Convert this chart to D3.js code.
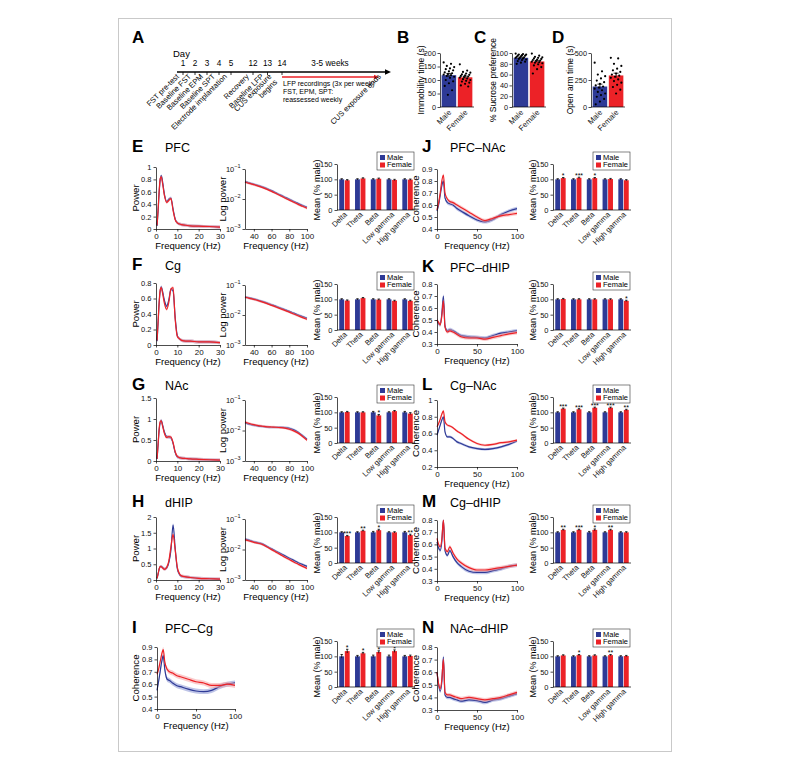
<!DOCTYPE html>
<html>
<head>
<meta charset="utf-8">
<script src="https://cdn.jsdelivr.net/npm/d3@7"></script>
<style>
  body { margin: 0; background: #fff; }
  svg { font-family: "Liberation Sans", Arial, Helvetica, sans-serif; }
</style>
</head>
<body>
<svg id="fig" width="791" height="763"></svg>
<script>
const BLUE = "#2e3a96", RED = "#ec2227";
const BLUE_LIGHT = "#8893d3", RED_LIGHT = "#f6a0a2";
const SEXES = ["Male", "Female"];
const BANDS = ["Delta", "Theta", "Beta", "Low gamma", "High gamma"];

// A: timeline
const DAY_TICKS = [1, 2, 3, 4, 5, 12, 13, 14];
const EVENT_DAYS = [1, 2, 3, 4, 5, 12, 13, 14, 49];
const EVENT_LABELS = ["FST pre-test", "Baseline FST", "Baseline EPM", "Baseline SPT", "Electrode implantation",
  "Recovery", "Baseline LFP", "CUS exposure\nbegins", "CUS exposure ends"];
const LFP_NOTE = ["LFP recordings (3x per week)", "FST, EPM, SPT:", "reassessed weekly"];

// B-D: behaviour, one value per animal
const IMMOBILITY_MALE = [165,160,152,148,143,140,136,132,128,125,122,120,118,115,112,108,100,95,88,78,62,45];
const IMMOBILITY_FEMALE = [158,135,130,127,124,121,119,117,115,113,111,109,106,103,100,97,94,90,86,80,76];
const SUCROSE_MALE = [99,98,97,97,96,95,95,94,93,92,91,91,90,89,88,87,85,84,82,80];
const SUCROSE_FEMALE = [99,95,93,92,91,90,89,88,87,86,85,84,83,82,81,79,77,74,70,62];
const OPENARM_MALE = [410,330,300,285,265,245,230,215,200,190,180,170,155,140,125,110,95,75,50,25];
const OPENARM_FEMALE = [455,450,400,380,355,340,325,310,300,290,280,270,255,240,225,205,185,160,125];

// E-H: power spectra
const POWER_FREQ = [0.5,1,1.5,2,2.5,3,4,5,6,7,8,9,10,11,12,14,16,20,25,30];
const PFC_POWER_M = [0.05,0.3,0.6,0.8,0.86,0.78,0.55,0.44,0.48,0.5,0.32,0.16,0.1,0.08,0.07,0.06,0.05,0.045,0.04,0.03];
const PFC_POWER_F = [0.06,0.32,0.62,0.82,0.84,0.75,0.53,0.43,0.46,0.49,0.3,0.15,0.1,0.08,0.07,0.06,0.05,0.045,0.04,0.03];
const CG_POWER_M = [0.05,0.3,0.55,0.7,0.75,0.7,0.57,0.5,0.58,0.72,0.7,0.35,0.12,0.08,0.06,0.05,0.05,0.04,0.04,0.03];
const CG_POWER_F = [0.06,0.31,0.56,0.72,0.74,0.68,0.53,0.46,0.55,0.72,0.74,0.33,0.11,0.08,0.06,0.05,0.05,0.04,0.04,0.03];
const NAC_POWER_M = [0.05,0.4,0.75,0.92,0.97,0.88,0.68,0.58,0.57,0.55,0.42,0.2,0.1,0.08,0.07,0.06,0.05,0.04,0.03,0.02];
const NAC_POWER_F = [0.05,0.42,0.78,0.95,0.95,0.85,0.65,0.56,0.58,0.57,0.44,0.22,0.11,0.08,0.07,0.06,0.05,0.04,0.03,0.02];
const DHIP_POWER_M = [0.05,0.2,0.35,0.42,0.43,0.4,0.35,0.38,0.55,0.95,1.75,1.0,0.35,0.18,0.12,0.1,0.08,0.05,0.04,0.03];
const DHIP_POWER_F = [0.05,0.2,0.36,0.43,0.42,0.39,0.34,0.4,0.6,1.05,1.45,0.95,0.4,0.2,0.13,0.1,0.08,0.05,0.04,0.03];

const LOG_FREQ = [30,35,40,45,50,55,60,65,70,75,80,85,90,95,100];
const PFC_LOG_M = [0.038,0.034,0.031,0.028,0.025,0.022,0.019,0.016,0.0135,0.0115,0.0098,0.0083,0.0071,0.0061,0.0053];
const PFC_LOG_F = [0.037,0.033,0.03,0.027,0.024,0.021,0.018,0.0152,0.0128,0.0108,0.0092,0.0078,0.0066,0.0057,0.0049];
const CG_LOG_M = [0.04,0.037,0.034,0.031,0.028,0.025,0.022,0.0195,0.017,0.015,0.0132,0.0115,0.01,0.0088,0.0078];
const CG_LOG_F = [0.039,0.036,0.033,0.03,0.027,0.024,0.021,0.0185,0.0162,0.0142,0.0125,0.0108,0.0094,0.0082,0.0072];
const NAC_LOG_M = [0.018,0.016,0.015,0.014,0.0135,0.013,0.0128,0.0128,0.0128,0.0125,0.0118,0.0105,0.0088,0.0068,0.0052];
const NAC_LOG_F = [0.019,0.017,0.0155,0.0145,0.0138,0.0132,0.013,0.0128,0.0125,0.012,0.011,0.0097,0.0082,0.0064,0.0048];
const DHIP_LOG_M = [0.022,0.02,0.018,0.0165,0.015,0.0125,0.0105,0.0088,0.0074,0.0062,0.0052,0.0044,0.0037,0.0032,0.0028];
const DHIP_LOG_F = [0.021,0.019,0.0172,0.016,0.0145,0.012,0.0099,0.0082,0.0068,0.0056,0.0047,0.0039,0.0033,0.0028,0.0024];

// I-N: coherence
const COH_FREQ = [0,2,4,6,8,10,13,16,20,25,30,40,50,60,70,80,90,100];
const PFCCG_COH_M = [0.55,0.62,0.7,0.78,0.83,0.72,0.64,0.63,0.61,0.59,0.58,0.56,0.545,0.54,0.55,0.58,0.6,0.61];
const PFCCG_COH_F = [0.68,0.72,0.78,0.84,0.88,0.78,0.72,0.7,0.69,0.67,0.66,0.64,0.62,0.61,0.59,0.59,0.6,0.59];
const PFCNAC_COH_M = [0.55,0.6,0.68,0.76,0.8,0.66,0.62,0.61,0.6,0.57,0.55,0.51,0.475,0.46,0.48,0.52,0.55,0.57];
const PFCNAC_COH_F = [0.56,0.62,0.7,0.8,0.85,0.7,0.65,0.63,0.62,0.6,0.58,0.54,0.5,0.47,0.49,0.51,0.52,0.53];
const PFCDHIP_COH_M = [0.5,0.47,0.46,0.55,0.7,0.45,0.41,0.42,0.41,0.39,0.37,0.36,0.355,0.35,0.37,0.39,0.4,0.41];
const PFCDHIP_COH_F = [0.5,0.48,0.46,0.53,0.66,0.44,0.4,0.41,0.4,0.38,0.36,0.35,0.35,0.34,0.355,0.37,0.385,0.395];
const CGNAC_COH_M = [0.58,0.64,0.7,0.76,0.8,0.62,0.56,0.56,0.54,0.5,0.48,0.44,0.42,0.41,0.42,0.44,0.47,0.51];
const CGNAC_COH_F = [0.68,0.72,0.77,0.83,0.87,0.74,0.7,0.69,0.67,0.63,0.6,0.53,0.48,0.46,0.47,0.49,0.5,0.52];
const CGDHIP_COH_M = [0.62,0.57,0.55,0.62,0.8,0.55,0.51,0.55,0.5,0.45,0.42,0.38,0.37,0.37,0.385,0.4,0.42,0.43];
const CGDHIP_COH_F = [0.65,0.6,0.58,0.64,0.8,0.57,0.54,0.58,0.53,0.48,0.45,0.41,0.39,0.39,0.4,0.41,0.42,0.43];
const NACDHIP_COH_M = [0.6,0.5,0.45,0.52,0.72,0.42,0.4,0.4,0.39,0.38,0.37,0.38,0.375,0.36,0.38,0.39,0.41,0.43];
const NACDHIP_COH_F = [0.6,0.51,0.47,0.54,0.7,0.44,0.42,0.42,0.41,0.4,0.39,0.4,0.39,0.38,0.39,0.4,0.42,0.44];

// band means, % of male
const MALE_PCT = [100,100,100,100,100];
const PFC_BAND_F = [97,103,102,98,99],      PFC_STARS = ["","","","",""],            PFC_SEM = [2,2,2,2,2];
const CG_BAND_F = [96,104,99,95,95],        CG_STARS = ["","","","",""],             CG_SEM = [2,2,2,2,2];
const NAC_BAND_F = [101,100,90,104,96],     NAC_STARS = ["","","*","",""],           NAC_SEM = [2,2,3,2,3];
const DHIP_BAND_F = [88,105,107,100,91],    DHIP_STARS = ["***","**","*","","**"],   DHIP_SEM = [2,2,3,2,3];
const PFCCG_BAND_F = [117,110,114,117,101], PFCCG_STARS = ["*","*","*","*",""],      PFCCG_SEM = [6,3,4,4,3];
const PFCNAC_BAND_F = [104,105,104,101,97], PFCNAC_STARS = ["*","***","*","",""],    PFCNAC_SEM = [2,2,2,2,2];
const PFCDHIP_BAND_F = [101,100,100,100,95],PFCDHIP_STARS = ["","","","","*"],       PFCDHIP_SEM = [2,2,2,2,2];
const CGNAC_BAND_F = [112,110,115,115,108], CGNAC_STARS = ["***","***","***","***","**"], CGNAC_SEM = [2,2,2,2,2];
const CGDHIP_BAND_F = [108,108,108,108,100],CGDHIP_STARS = ["**","***","*","**",""], CGDHIP_SEM = [2,2,3,2,2];
const NACDHIP_BAND_F = [103,104,103,104,101],NACDHIP_STARS = ["","*","","**",""],    NACDHIP_SEM = [2,2,2,2,2];

// layout
const LEFT_LETTER_Y = [152, 270, 390, 507, 633];
const RIGHT_LETTER_Y = [152, 272, 390, 507, 633];
const LEFT_PLOT = [[167,229],[283,345],[398,461],[517,580],[647,709]];
const RIGHT_PLOT = [[169,229],[284,344],[400,467],[520,581],[647,710]];
const BAR_BOTTOM = [210, 330, 443, 563, 687];
const TICK_FS = 7.5;

const svg = d3.select("#fig");

svg.append("rect").attr("x", 118.5).attr("y", 18.5).attr("width", 553).attr("height", 733)
  .attr("fill", "none").attr("stroke", "#c9c9c9");

function letter(x, y, t) {
  svg.append("text").attr("x", x).attr("y", y).attr("font-size", 17).attr("font-weight", "bold").text(t);
}
function title(x, y, t) {
  svg.append("text").attr("x", x).attr("y", y).attr("font-size", 12.5).text(t);
}
function ylab(x, y, t, fs) {
  svg.append("text").attr("transform", `translate(${x},${y}) rotate(-90)`)
    .attr("text-anchor", "middle").attr("font-size", fs).text(t);
}
function styleAxis(sel, fs) {
  sel.attr("font-size", fs).attr("font-family", null);
  sel.selectAll("path.domain, .tick line").attr("stroke", "#000").attr("stroke-width", 0.7);
  sel.selectAll(".tick text").attr("fill", "#111");
}

// ---------- A ----------
letter(132, 43, "A");
const tl = d3.scaleLinear().domain([1, 5, 12, 14, 49]).range([183, 231, 253, 282, 385]);
svg.append("text").attr("x", 173).attr("y", 57).attr("font-size", 9.5).text("Day");
svg.append("line").attr("x1", 177).attr("x2", 386).attr("y1", 72).attr("y2", 72).attr("stroke", "#000").attr("stroke-width", 1.6);
svg.append("path").attr("d", "M385,69.2 L391,72 L385,74.8 Z").attr("fill", "#000");
DAY_TICKS.forEach(d => {
  svg.append("line").attr("x1", tl(d)).attr("x2", tl(d)).attr("y1", 72).attr("y2", 75).attr("stroke", "#000").attr("stroke-width", 0.8);
  svg.append("text").attr("x", tl(d)).attr("y", 66).attr("text-anchor", "middle").attr("font-size", 8.2).text(d);
});
svg.append("text").attr("x", 330).attr("y", 66).attr("text-anchor", "middle").attr("font-size", 8.2).text("3-5 weeks");
svg.append("line").attr("x1", tl(14)).attr("x2", tl(49) - 10).attr("y1", 77).attr("y2", 77).attr("stroke", RED).attr("stroke-width", 1.6);
svg.append("path").attr("d", `M${tl(49) - 11},74.8 L${tl(49) - 6},77 L${tl(49) - 11},79.2 Z`).attr("fill", RED);
LFP_NOTE.forEach((t, i) => {
  svg.append("text").attr("x", tl(14) + 1).attr("y", 86 + i * 8).attr("font-size", 7).text(t);
});
EVENT_LABELS.forEach((lab, i) => {
  const lines = lab.split("\n");
  const dx = lines.length > 1 ? -10 : -3.5;
  const t = svg.append("text").attr("transform", `translate(${tl(EVENT_DAYS[i]) + dx},77) rotate(-45)`)
    .attr("text-anchor", "end").attr("font-size", 7.6);
  lines.forEach((ln, k) => t.append("tspan").attr("x", 0).attr("dy", k ? "1.05em" : 0).text(ln));
});

// ---------- B-D ----------
function behavChart(o) {
  letter(o.lx, 43, o.letter);
  const y = d3.scaleLinear().domain([0, o.max]).range([107, 53]);
  const x = d3.scaleBand().domain(SEXES).range([o.x0 + 1, o.x0 + 33]).paddingInner(0.1).paddingOuter(0.04);
  const groups = [o.male, o.female];
  const g = svg.append("g");
  groups.forEach((vals, i) => {
    const m = d3.mean(vals), se = d3.deviation(vals) / Math.sqrt(vals.length);
    const cx = x(SEXES[i]) + x.bandwidth() / 2;
    g.append("rect").attr("x", x(SEXES[i])).attr("width", x.bandwidth())
      .attr("y", y(m)).attr("height", y(0) - y(m)).attr("fill", i ? RED : BLUE);
    g.append("line").attr("x1", cx).attr("x2", cx).attr("y1", y(m - se)).attr("y2", y(m + se)).attr("stroke", "#000").attr("stroke-width", 0.8);
    g.append("line").attr("x1", cx - 2.5).attr("x2", cx + 2.5).attr("y1", y(m + se)).attr("y2", y(m + se)).attr("stroke", "#000").attr("stroke-width", 0.8);
    g.selectAll(null).data(vals).join("circle")
      .attr("cx", (d, k) => cx + ((k * 7) % 11 - 5) * 1.05)
      .attr("cy", d => y(d)).attr("r", 1.1).attr("fill", "#000");
  });
  const ay = g.append("g").attr("transform", `translate(${o.x0},0)`)
    .call(d3.axisLeft(y).tickValues(o.ticks).tickSize(2.5).tickPadding(1.5).tickSizeOuter(0));
  styleAxis(ay, 7.3);
  const ax = g.append("g").attr("transform", `translate(0,107)`)
    .call(d3.axisBottom(x).tickSize(0).tickSizeOuter(0));
  styleAxis(ax, 7.8);
  ax.select("path.domain").attr("d", `M${o.x0},0H${o.x0 + 34}`);
  ax.selectAll(".tick text").attr("y", 0).attr("dy", 0)
    .attr("transform", "translate(3,6) rotate(-45)").attr("text-anchor", "end");
  ylab(o.yl, 80, o.label, 8.5);
}
behavChart({ letter: "B", lx: 397, x0: 440, yl: 424, max: 200, ticks: [0, 50, 100, 150, 200],
  male: IMMOBILITY_MALE, female: IMMOBILITY_FEMALE, label: "Immobility time (s)" });
behavChart({ letter: "C", lx: 474, x0: 512, yl: 496, max: 100, ticks: [0, 20, 40, 60, 80, 100],
  male: SUCROSE_MALE, female: SUCROSE_FEMALE, label: "% Sucrose preference" });
behavChart({ letter: "D", lx: 552, x0: 591, yl: 573, max: 500, ticks: [0, 250, 500],
  male: OPENARM_MALE, female: OPENARM_FEMALE, label: "Open arm time (s)" });

// ---------- spectra ----------
function spectrum(o) {
  const x = d3.scaleLinear().domain(o.xDomain).range([o.x0, o.x1]);
  const y = (o.log ? d3.scaleLog() : d3.scaleLinear()).domain(o.yDomain).range([o.yBot, o.yTop]).clamp(true);
  const g = svg.append("g");
  [[o.male, BLUE, BLUE_LIGHT], [o.female, RED, RED_LIGHT]].forEach(([vals, col, light]) => {
    const pts = o.freq.map((f, i) => ({ f, v: vals[i] }));
    const lo = d => o.log ? d.v / (1 + o.sem) : d.v - o.sem;
    const hi = d => o.log ? d.v * (1 + o.sem) : d.v + o.sem;
    g.append("path").datum(pts).attr("fill", light).attr("opacity", 0.55)
      .attr("d", d3.area().curve(d3.curveMonotoneX).x(d => x(d.f)).y0(d => y(lo(d))).y1(d => y(hi(d))));
    g.append("path").datum(pts).attr("fill", "none").attr("stroke", col).attr("stroke-width", 1.2)
      .attr("d", d3.line().curve(d3.curveMonotoneX).x(d => x(d.f)).y(d => y(d.v)));
  });
  const ax = g.append("g").attr("transform", `translate(0,${o.yBot})`)
    .call(d3.axisBottom(x).tickValues(o.xTicks).tickSize(2.5).tickPadding(1.5).tickSizeOuter(0));
  styleAxis(ax, 8);
  const ay = g.append("g").attr("transform", `translate(${o.x0},0)`)
    .call(d3.axisLeft(y).tickValues(o.yTicks).tickSize(2.5).tickPadding(2).tickSizeOuter(0)
      .tickFormat(o.log ? () => "" : d3.format("~g")));
  styleAxis(ay, TICK_FS);
  if (o.log) {
    ay.selectAll(".tick text").each(function (d) {
      const t = d3.select(this);
      t.append("tspan").text("10");
      t.append("tspan").attr("dy", -3.5).attr("font-size", 5.5).text("\u2212" + Math.round(-Math.log10(d)));
    });
  }
  svg.append("text").attr("x", (o.x0 + o.x1) / 2).attr("y", o.yBot + 19.5).attr("text-anchor", "middle")
    .attr("font-size", 9.5).text("Frequency (Hz)");
  ylab(o.x0 - o.yOff, (o.yTop + o.yBot) / 2, o.ylabel, 9.6);
}

function legend(x, y) {
  const g = svg.append("g").attr("transform", `translate(${x},${y})`);
  g.append("rect").attr("width", 37).attr("height", 18).attr("fill", "#fff").attr("stroke", "#333").attr("stroke-width", 0.6);
  SEXES.forEach((s, i) => {
    g.append("rect").attr("x", 3).attr("y", 3 + i * 7.5).attr("width", 5).attr("height", 5).attr("fill", i ? RED : BLUE);
    g.append("text").attr("x", 10).attr("y", 7.8 + i * 7.5).attr("font-size", 7.5).text(s);
  });
}

function bandChart(o) {
  const y = d3.scaleLinear().domain([0, 150]).range([o.yBot, o.yBot - 46]);
  const x = d3.scaleBand().domain(BANDS).range([o.x0 + 1, o.x0 + 77]).paddingInner(0.34).paddingOuter(0.08);
  const xs = d3.scaleBand().domain(SEXES).range([0, x.bandwidth()]).paddingInner(0.12);
  const g = svg.append("g");
  const rows = BANDS.flatMap((b, i) => [
    { b, s: "Male", v: MALE_PCT[i], e: o.sem[i], star: "" },
    { b, s: "Female", v: o.female[i], e: o.sem[i], star: o.stars[i] }]);
  g.selectAll("rect.bar").data(rows).join("rect")
    .attr("x", d => x(d.b) + xs(d.s)).attr("width", xs.bandwidth())
    .attr("y", d => y(d.v)).attr("height", d => y(0) - y(d.v))
    .attr("fill", d => d.s === "Male" ? BLUE : RED);
  const cx = d => x(d.b) + xs(d.s) + xs.bandwidth() / 2;
  g.selectAll("line.err").data(rows).join("line")
    .attr("x1", cx).attr("x2", cx).attr("y1", d => y(d.v - d.e)).attr("y2", d => y(d.v + d.e))
    .attr("stroke", "#000").attr("stroke-width", 0.8);
  g.selectAll("line.cap").data(rows).join("line")
    .attr("x1", d => cx(d) - 1.2).attr("x2", d => cx(d) + 1.2).attr("y1", d => y(d.v + d.e)).attr("y2", d => y(d.v + d.e))
    .attr("stroke", "#000").attr("stroke-width", 0.8);
  g.selectAll("text.star").data(rows.filter(d => d.star)).join("text")
    .attr("x", cx).attr("y", d => y(d.v + d.e) + 1).attr("text-anchor", "middle").attr("font-size", 7).text(d => d.star);
  const ay = g.append("g").attr("transform", `translate(${o.x0},0)`)
    .call(d3.axisLeft(y).tickValues([0, 50, 100, 150]).tickSize(2.5).tickPadding(2).tickSizeOuter(0));
  styleAxis(ay, TICK_FS);
  const ax = g.append("g").attr("transform", `translate(0,${o.yBot})`)
    .call(d3.axisBottom(x).tickSize(0).tickSizeOuter(0));
  styleAxis(ax, 7.6);
  ax.select("path.domain").attr("d", `M${o.x0},0H${o.x0 + 78}`);
  ax.selectAll(".tick text").attr("y", 0).attr("dy", 0)
    .attr("transform", "translate(3,5) rotate(-45)").attr("text-anchor", "end");
  ylab(o.x0 - 17, o.yBot - 20, "Mean (% male)", 9);
  legend(o.lgx, o.yBot - 58);
}

// ---------- E-I ----------
const POWER_ROWS = [
  { letter: "E", name: "PFC", m: PFC_POWER_M, f: PFC_POWER_F, max: 1, ticks: [0, 0.2, 0.4, 0.6, 0.8, 1],
    lm: PFC_LOG_M, lf: PFC_LOG_F, band: PFC_BAND_F, stars: PFC_STARS, sem: PFC_SEM },
  { letter: "F", name: "Cg", m: CG_POWER_M, f: CG_POWER_F, max: 0.8, ticks: [0, 0.2, 0.4, 0.6, 0.8],
    lm: CG_LOG_M, lf: CG_LOG_F, band: CG_BAND_F, stars: CG_STARS, sem: CG_SEM },
  { letter: "G", name: "NAc", m: NAC_POWER_M, f: NAC_POWER_F, max: 1.5, ticks: [0, 0.5, 1, 1.5],
    lm: NAC_LOG_M, lf: NAC_LOG_F, band: NAC_BAND_F, stars: NAC_STARS, sem: NAC_SEM },
  { letter: "H", name: "dHIP", m: DHIP_POWER_M, f: DHIP_POWER_F, max: 2, ticks: [0, 0.5, 1, 1.5, 2],
    lm: DHIP_LOG_M, lf: DHIP_LOG_F, band: DHIP_BAND_F, stars: DHIP_STARS, sem: DHIP_SEM }
];
POWER_ROWS.forEach((r, i) => {
  const [top, bot] = LEFT_PLOT[i];
  letter(132, LEFT_LETTER_Y[i], r.letter);
  title(165, LEFT_LETTER_Y[i], r.name);
  spectrum({ x0: 156, x1: 220, yTop: top, yBot: bot, xDomain: [0, 30], yDomain: [0, r.max],
    xTicks: [0, 10, 20, 30], yTicks: r.ticks, freq: POWER_FREQ, male: r.m, female: r.f,
    sem: r.max * 0.025, ylabel: "Power", yOff: 17 });
  spectrum({ x0: 245, x1: 307, yTop: top + 2, yBot: bot, xDomain: [30, 100], yDomain: [1e-3, 1e-1], log: true,
    xTicks: [40, 60, 80, 100], yTicks: [1e-3, 1e-2, 1e-1], freq: LOG_FREQ, male: r.lm, female: r.lf,
    sem: 0.1, ylabel: "Log power", yOff: 19 });
  bandChart({ x0: 337, yBot: BAR_BOTTOM[i], female: r.band, stars: r.stars, sem: r.sem, lgx: 377 });
});

letter(132, LEFT_LETTER_Y[4], "I");
title(165, LEFT_LETTER_Y[4], "PFC\u2013Cg");
spectrum({ x0: 157, x1: 235, yTop: LEFT_PLOT[4][0], yBot: LEFT_PLOT[4][1], xDomain: [0, 100], yDomain: [0.4, 0.9],
  xTicks: [0, 50, 100], yTicks: [0.4, 0.5, 0.6, 0.7, 0.8, 0.9], freq: COH_FREQ, male: PFCCG_COH_M, female: PFCCG_COH_F,
  sem: 0.02, ylabel: "Coherence", yOff: 18 });
bandChart({ x0: 337, yBot: BAR_BOTTOM[4], female: PFCCG_BAND_F, stars: PFCCG_STARS, sem: PFCCG_SEM, lgx: 377 });

// ---------- J-N ----------
const COH_ROWS = [
  { letter: "J", name: "PFC\u2013NAc", m: PFCNAC_COH_M, f: PFCNAC_COH_F, dom: [0.4, 0.9], ticks: [0.4, 0.5, 0.6, 0.7, 0.8, 0.9],
    band: PFCNAC_BAND_F, stars: PFCNAC_STARS, sem: PFCNAC_SEM },
  { letter: "K", name: "PFC\u2013dHIP", m: PFCDHIP_COH_M, f: PFCDHIP_COH_F, dom: [0.3, 0.8], ticks: [0.3, 0.4, 0.5, 0.6, 0.7, 0.8],
    band: PFCDHIP_BAND_F, stars: PFCDHIP_STARS, sem: PFCDHIP_SEM },
  { letter: "L", name: "Cg\u2013NAc", m: CGNAC_COH_M, f: CGNAC_COH_F, dom: [0.2, 1], ticks: [0.2, 0.4, 0.6, 0.8, 1],
    band: CGNAC_BAND_F, stars: CGNAC_STARS, sem: CGNAC_SEM },
  { letter: "M", name: "Cg\u2013dHIP", m: CGDHIP_COH_M, f: CGDHIP_COH_F, dom: [0.3, 0.8], ticks: [0.3, 0.4, 0.5, 0.6, 0.7, 0.8],
    band: CGDHIP_BAND_F, stars: CGDHIP_STARS, sem: CGDHIP_SEM },
  { letter: "N", name: "NAc\u2013dHIP", m: NACDHIP_COH_M, f: NACDHIP_COH_F, dom: [0.3, 0.8], ticks: [0.3, 0.4, 0.5, 0.6, 0.7, 0.8],
    band: NACDHIP_BAND_F, stars: NACDHIP_STARS, sem: NACDHIP_SEM }
];
COH_ROWS.forEach((r, i) => {
  const [top, bot] = RIGHT_PLOT[i];
  letter(422, RIGHT_LETTER_Y[i], r.letter);
  title(450, RIGHT_LETTER_Y[i], r.name);
  spectrum({ x0: 437, x1: 517, yTop: top, yBot: bot, xDomain: [0, 100], yDomain: r.dom,
    xTicks: [0, 50, 100], yTicks: r.ticks, freq: COH_FREQ, male: r.m, female: r.f,
    sem: 0.015, ylabel: "Coherence", yOff: 18 });
  bandChart({ x0: 553, yBot: BAR_BOTTOM[i], female: r.band, stars: r.stars, sem: r.sem, lgx: 593 });
});
</script>
</body>
</html>
